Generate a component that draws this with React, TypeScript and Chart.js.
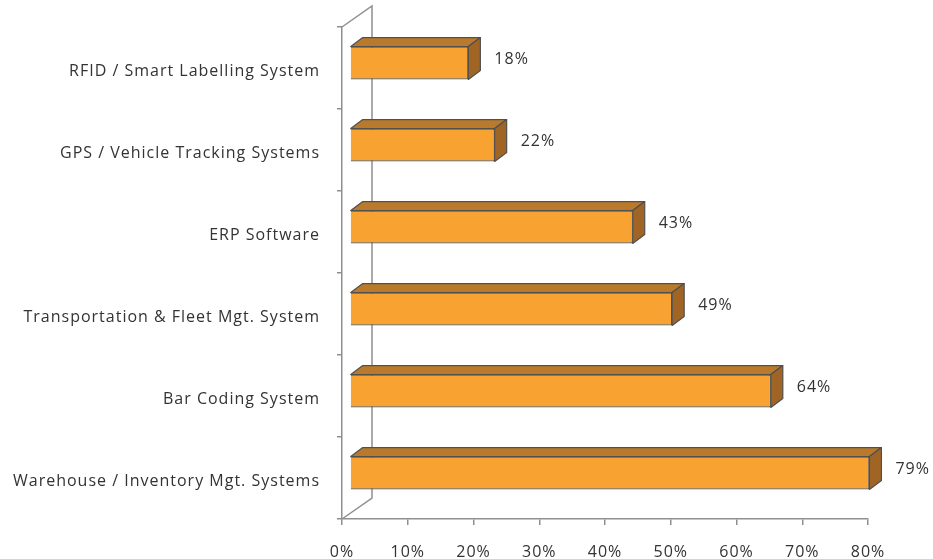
import React, { useEffect, useRef } from "react";
import { Chart, registerables } from "chart.js";

Chart.register(...registerables);

const categories = [
  "RFID / Smart Labelling System",
  "GPS / Vehicle Tracking Systems",
  "ERP Software",
  "Transportation & Fleet Mgt. System",
  "Bar Coding System",
  "Warehouse / Inventory Mgt. Systems",
];
const values = [18, 22, 43, 49, 64, 79];
const xTicks = [0, 10, 20, 30, 40, 50, 60, 70, 80];

const FRONT = "#F8A232";
const TOP = "#BA7A2B";
const SIDE = "#A06524";
const EDGE = "#505050";
const AXIS = "#8f8f8f";
const TEXT = "#333333";
const FONT = "'Open Sans'";

const SHIFT_X = 8;
const SHIFT_Y = -5;
const DX = 12;
const DY = 9;
const WALL_DX = 30;
const WALL_DY = 21;

const box3d = {
  id: "box3d",
  beforeDraw(chart: any) {
    const { ctx, chartArea, scales } = chart;
    (ctx as any).letterSpacing = "1px";
    const x0 = scales.x.getPixelForValue(0);
    ctx.save();
    ctx.strokeStyle = AXIS;
    ctx.lineWidth = 1.5;
    ctx.beginPath();
    ctx.moveTo(x0, chartArea.top);
    ctx.lineTo(x0 + WALL_DX, chartArea.top - WALL_DY);
    ctx.lineTo(x0 + WALL_DX, chartArea.bottom - WALL_DY);
    ctx.lineTo(x0, chartArea.bottom);
    ctx.stroke();
    ctx.restore();
  },
  beforeDatasetsDraw(chart: any) {
    chart.ctx.save();
    chart.ctx.translate(SHIFT_X, SHIFT_Y);
  },
  afterDatasetsDraw(chart: any) {
    const { ctx } = chart;
    const meta = chart.getDatasetMeta(0);
    meta.data.forEach((bar: any, i: number) => {
      const p = bar.getProps(["x", "y", "base", "height"], true);
      const left = Math.min(p.x, p.base);
      const right = Math.max(p.x, p.base);
      const top = p.y - p.height / 2;
      const bottom = p.y + p.height / 2;
      ctx.lineWidth = 1.2;
      ctx.strokeStyle = EDGE;
      ctx.lineJoin = "round";
      // top face
      ctx.beginPath();
      ctx.moveTo(left, top);
      ctx.lineTo(left + DX, top - DY);
      ctx.lineTo(right + DX, top - DY);
      ctx.lineTo(right, top);
      ctx.closePath();
      ctx.fillStyle = TOP;
      ctx.fill();
      ctx.stroke();
      // side face
      ctx.beginPath();
      ctx.moveTo(right, top);
      ctx.lineTo(right + DX, top - DY);
      ctx.lineTo(right + DX, bottom - DY);
      ctx.lineTo(right, bottom);
      ctx.closePath();
      ctx.fillStyle = SIDE;
      ctx.fill();
      ctx.stroke();
      // label
      ctx.fillStyle = TEXT;
      ctx.font = `16px ${FONT}`;
      ctx.textAlign = "left";
      ctx.textBaseline = "middle";
      ctx.fillText(values[i] + "%", right + DX + 14, p.y - 4);
    });
    ctx.restore();
  },
};

export default function App() {
  const ref = useRef<HTMLCanvasElement | null>(null);
  useEffect(() => {
    document.body.style.margin = "0";
    const chart = new Chart(ref.current as HTMLCanvasElement, {
      type: "bar",
      data: {
        labels: categories,
        datasets: [
          {
            data: values,
            backgroundColor: FRONT,
            borderColor: EDGE,
            borderWidth: 1.2,
            categoryPercentage: 0.8,
            barPercentage: 0.5,
            clip: false as any,
          },
        ],
      },
      options: {
        indexAxis: "y",
        responsive: false,
        animation: false,
        layout: { padding: { left: 0, top: 27, right: 65, bottom: 0 } },
        plugins: { legend: { display: false }, tooltip: { enabled: false } },
        scales: {
          x: {
            min: 0,
            max: 80,
            afterBuildTicks: (s: any) => {
              s.ticks = xTicks.map((v) => ({ value: v }));
            },
            afterFit: (s: any) => {
              s.height = 40;
            },
            border: { color: AXIS, width: 1.5 },
            grid: { drawOnChartArea: false, tickLength: 6, color: AXIS, lineWidth: 1.5 },
            ticks: {
              color: TEXT,
              font: { family: FONT, size: 16 },
              padding: 18,
              callback: (v: any) => v + "%",
            },
          },
          y: {
            afterFit: (s: any) => {
              s.width = 342;
            },
            border: { color: AXIS, width: 1.5 },
            grid: { drawOnChartArea: false, tickLength: 5, color: AXIS, lineWidth: 1.5, offset: true },
            ticks: {
              color: TEXT,
              font: { family: FONT, size: 16 },
              padding: 17,
              labelOffset: 3,
            },
          },
        },
      },
      plugins: [box3d],
    });
    return () => chart.destroy();
  }, []);
  return (
    <div style={{ position: "absolute", left: 0, top: 0, width: 933, height: 559 }}>
      <canvas ref={ref} width={933} height={559} />
    </div>
  );
}
